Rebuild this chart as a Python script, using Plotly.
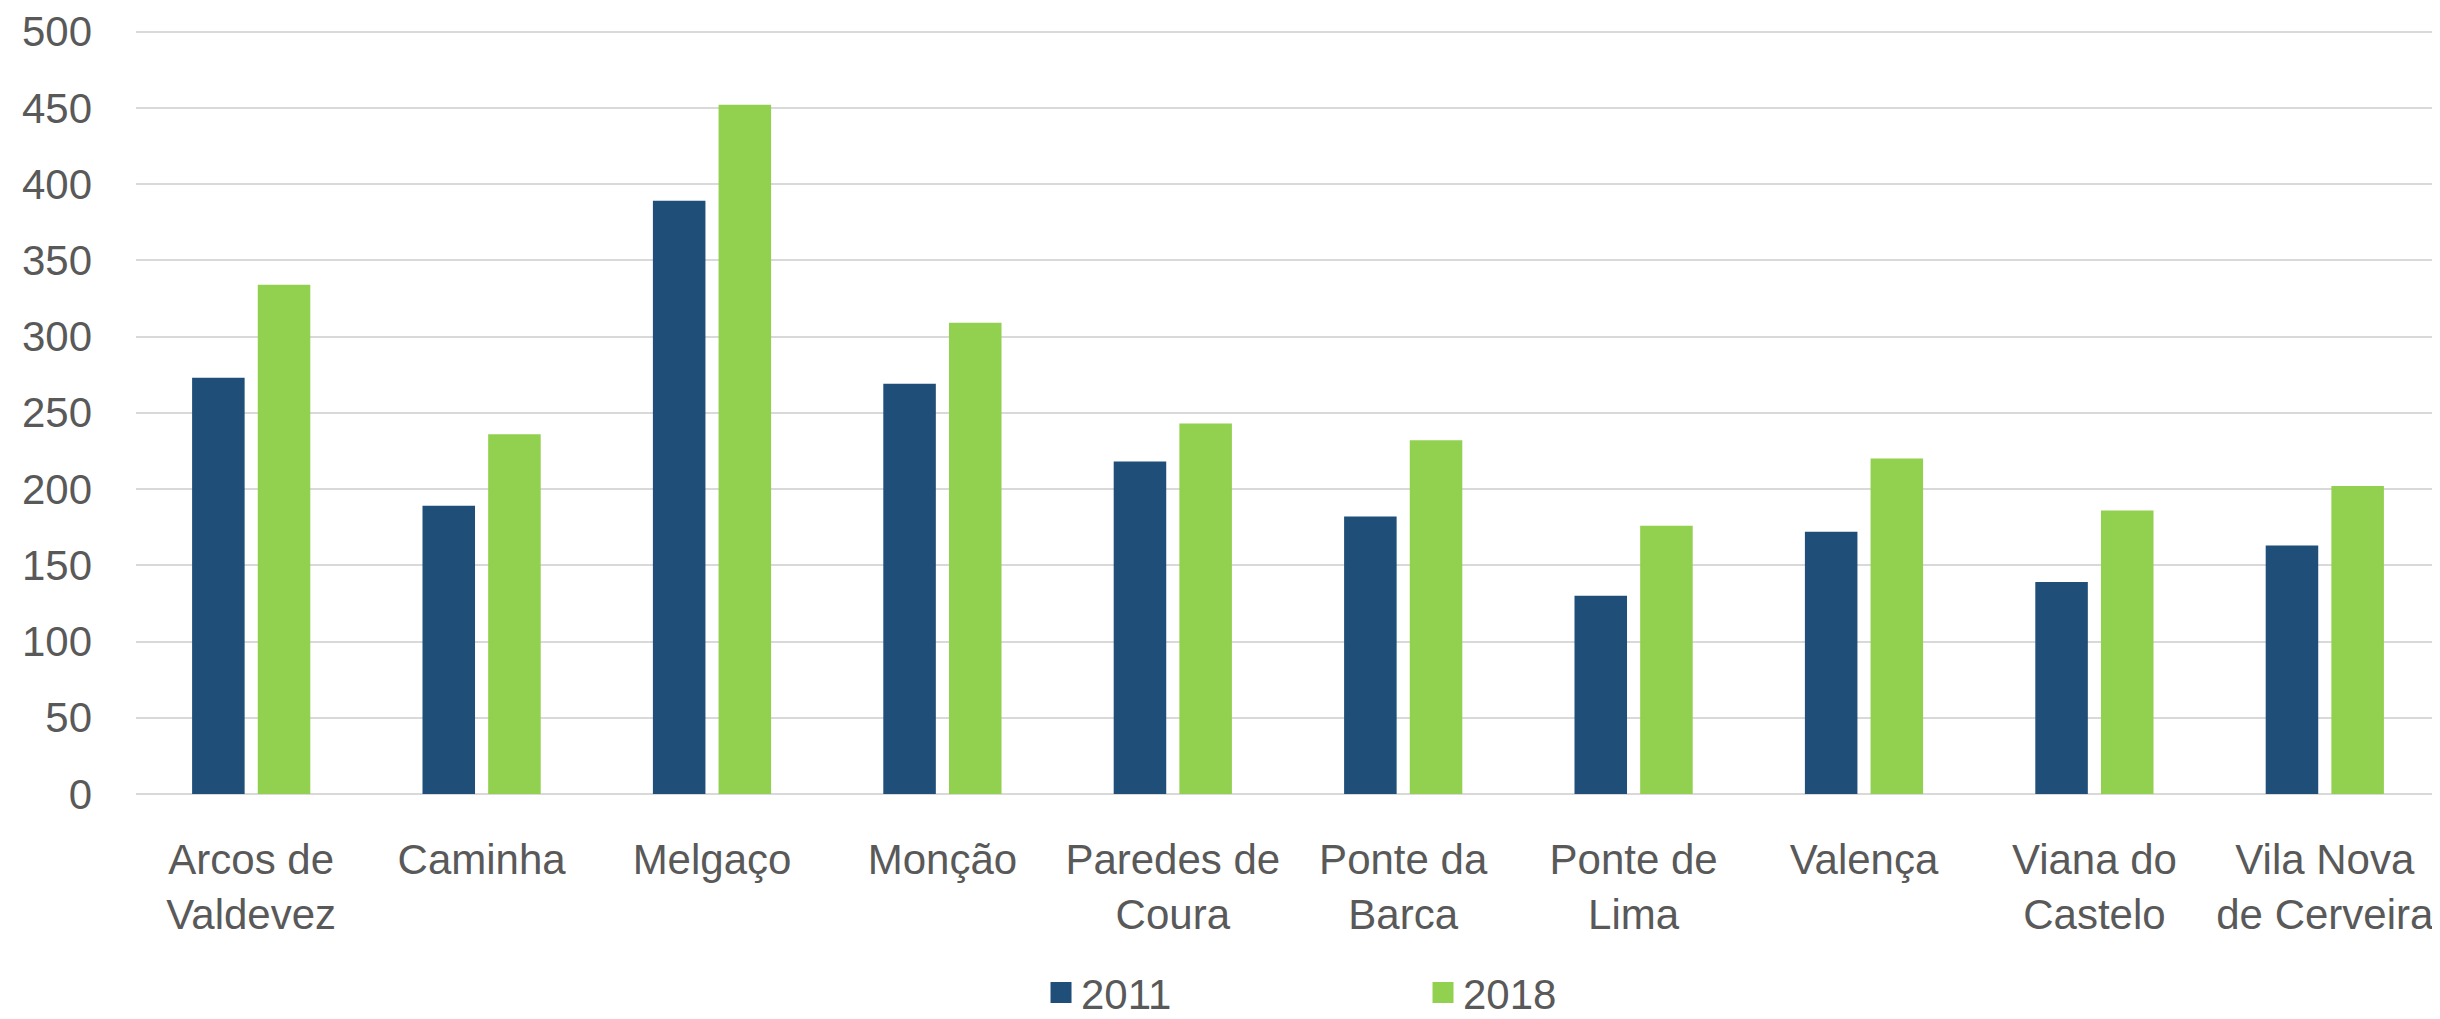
import plotly.graph_objects as go

categories = ["Arcos de<br>Valdevez", "Caminha", "Melgaço", "Monção", "Paredes de<br>Coura",
              "Ponte da<br>Barca", "Ponte de<br>Lima", "Valença", "Viana do<br>Castelo",
              "Vila Nova<br>de Cerveira"]
values_2011 = [273, 189, 389, 269, 218, 182, 130, 172, 139, 163]
values_2018 = [334, 236, 452, 309, 243, 232, 176, 220, 186, 202]
series_names = ["2011", "2018"]
colors = ["#1F4E79", "#92D050"]
y_ticks = [0, 50, 100, 150, 200, 250, 300, 350, 400, 450, 500]

FONT = "Liberation Sans, Arial, sans-serif"
TXT = "#595959"

fig = go.Figure()
for name, vals, col in zip(series_names, [values_2011, values_2018], colors):
    fig.add_trace(go.Bar(x=categories, y=vals, name=name, marker=dict(color=col, line=dict(width=0)),
                         showlegend=False))
    fig.add_trace(go.Scatter(x=[None], y=[None], mode="markers", name=name,
                             marker=dict(symbol="square", size=16, color=col,
                                         line=dict(color=col, width=5))))

# the page body has an 8px default margin, so the figure is sized to fit the window
fig.update_layout(
    width=2432, height=1011,
    margin=dict(l=128, r=0, t=19, b=225, autoexpand=False),
    paper_bgcolor="white", plot_bgcolor="white",
    barmode="group", bargap=0.43, bargroupgap=0.2,
    font=dict(family=FONT, size=42, color=TXT),
    legend=dict(orientation="h", x=0.5586, xanchor="center", y=-0.2591, yanchor="middle",
                font=dict(family=FONT, size=42, color=TXT),
                entrywidth=337, entrywidthmode="pixels", itemclick=False),
    xaxis=dict(showgrid=False, showline=False, zeroline=False, ticks="", automargin=False,
               ticklabelstandoff=37, tickfont=dict(family=FONT, size=42, color=TXT)),
    yaxis=dict(range=[0, 503], tickvals=y_ticks, showgrid=True, gridcolor="#D9D9D9", gridwidth=2,
               zeroline=True, zerolinecolor="#D9D9D9", zerolinewidth=2, showline=False,
               automargin=False,
               ticks="", ticklabelstandoff=43, tickfont=dict(family=FONT, size=42, color=TXT)),
)

fig.write_html("out.html")
